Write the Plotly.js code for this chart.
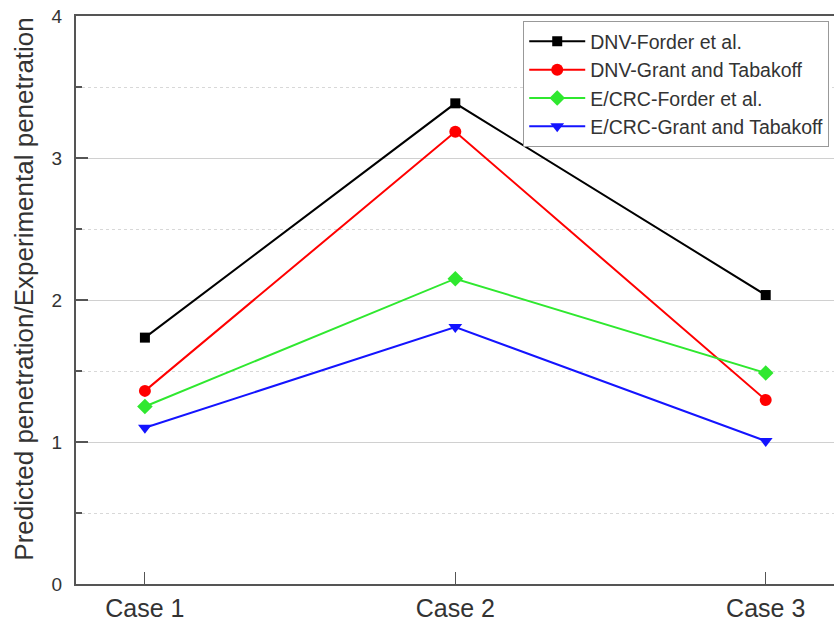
<!DOCTYPE html>
<html><head><meta charset="utf-8">
<script src="https://cdn.plot.ly/plotly-3.0.1.min.js"></script>
<style>html,body{margin:0;padding:0;background:#fff;}#chart{width:834px;height:628px;}</style>
</head><body><div id="chart"></div>
<script>
const categories = ["Case 1", "Case 2", "Case 3"];
const seriesNames = ["DNV-Forder et al.", "DNV-Grant and Tabakoff", "E/CRC-Forder et al.", "E/CRC-Grant and Tabakoff"];
const dnvForder = [1.735, 3.385, 2.035];
const dnvGrant = [1.36, 3.185, 1.296];
const ecrcForder = [1.25, 2.15, 1.486];
const ecrcGrant = [1.10, 1.81, 1.007];
const yTicks = [0, 1, 2, 3, 4];
const yTitle = "Predicted penetration/Experimental penetration";

const colors = ["#000000", "#ff0000", "#2fe82f", "#1414ff"];
const symbols = ["square", "circle", "diamond", "triangle-down"];
const sizes = [10, 12, 12, 12];
const values = [dnvForder, dnvGrant, ecrcForder, ecrcGrant];

const traces = values.map((v, i) => ({
  x: categories, y: v, name: seriesNames[i], type: "scatter", mode: "lines+markers",
  legendgroup: "g" + i,
  line: {color: colors[i], width: 2},
  marker: {color: colors[i], symbol: symbols[i], size: sizes[i]}
}));

const font = "Liberation Sans, Arial, sans-serif";
const layout = {
  width: 834, height: 628,
  margin: {l: 76, r: 0, t: 16, b: 44},
  paper_bgcolor: "#fff", plot_bgcolor: "#fff",
  font: {family: font, color: "#333"},
  showlegend: true,
  legend: {
    x: 0.59, y: 0.991, xanchor: "left", yanchor: "top",
    bgcolor: "#fff", bordercolor: "#999", borderwidth: 1,
    font: {family: font, size: 19.5, color: "#333"},
    traceorder: "grouped", tracegroupgap: 0, itemwidth: 56
  },
  xaxis: {
    type: "category", range: [-0.222, 2.22],
    showline: true, linecolor: "#555", linewidth: 2, mirror: true,
    ticks: "inside", ticklen: 12, tickwidth: 1, tickcolor: "#555",
    showgrid: false, zeroline: false,
    tickfont: {family: font, size: 25, color: "#333"},
    ticklabelstandoff: 1
  },
  yaxis: {
    range: [0, 4], tickvals: yTicks,
    showline: true, linecolor: "#555", linewidth: 2,
    ticks: "inside", ticklen: 12, tickwidth: 2, tickcolor: "#555",
    showgrid: true, gridcolor: "#d0d0d0", gridwidth: 1,
    zeroline: false,
    tickfont: {family: font, size: 19, color: "#333"},
    ticklabelstandoff: 8,
    minor: {dtick: 0.5, ticks: "inside", ticklen: 6, tickcolor: "#555", tickwidth: 2,
            showgrid: true, gridcolor: "#d8d8d8", griddash: "dot", gridwidth: 1}
  },
  annotations: [{
    text: yTitle, textangle: -90, showarrow: false,
    xref: "paper", yref: "paper", x: -0.068, y: 0.519, xanchor: "center", yanchor: "middle",
    font: {family: font, size: 26, color: "#333"}
  }]
};
Plotly.newPlot("chart", traces, layout, {displayModeBar: false, staticPlot: true});
</script></body></html>
